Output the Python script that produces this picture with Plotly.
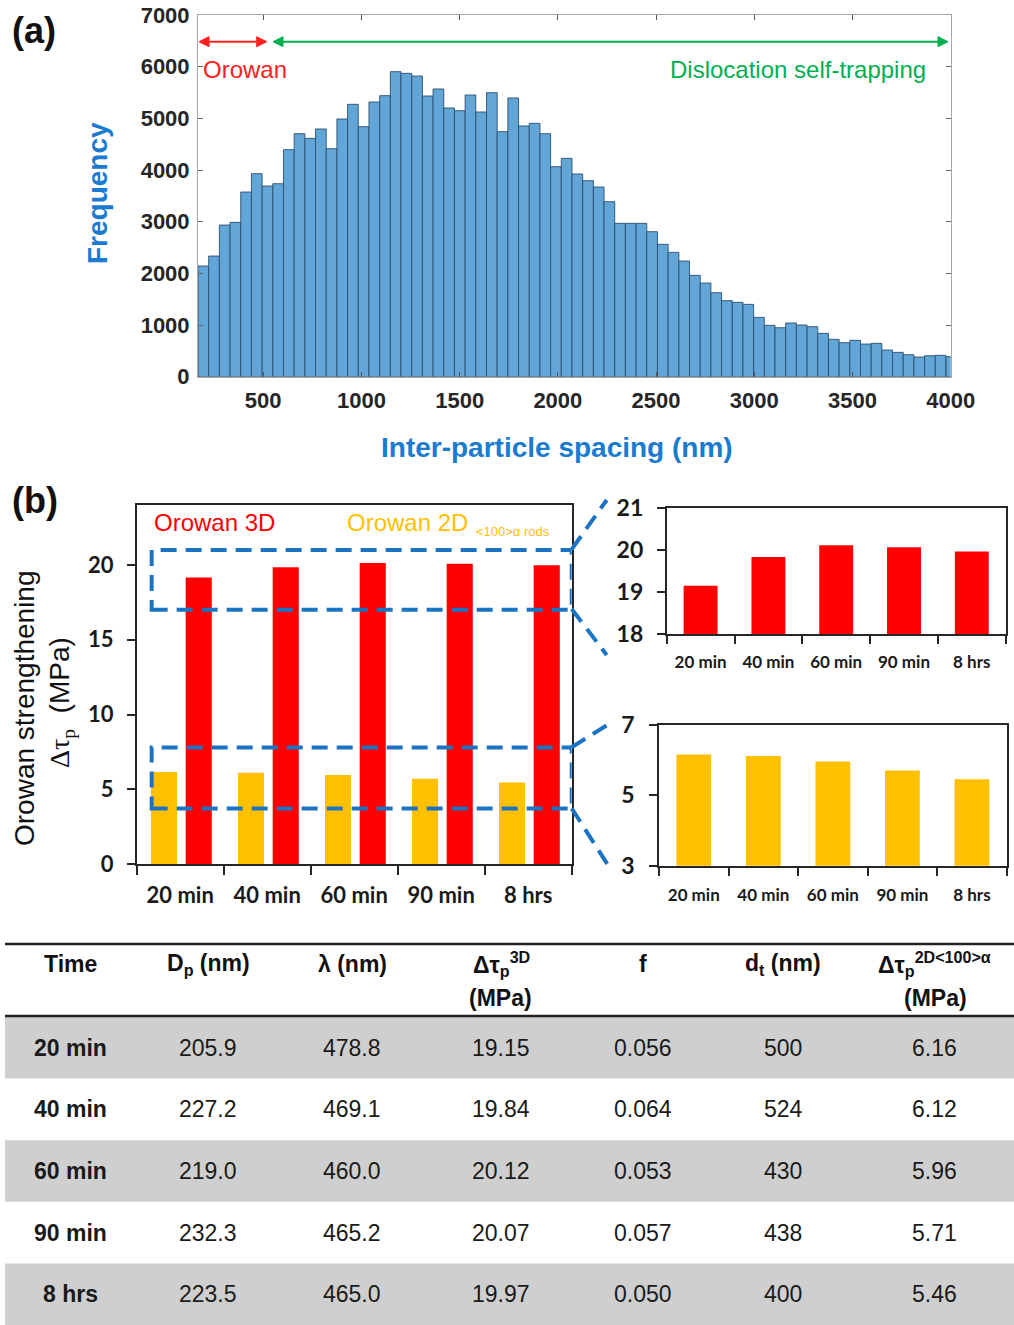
import plotly.graph_objects as go

W, H = 1014, 1325
def px(x):
    return x / W
def py(y):
    return 1 - y / H

# ---------------- data ----------------
bin_start = 168.0
bin_width = 54.4
frequency = [2142, 2335, 2935, 2987, 3574, 3929, 3690, 3735, 4394, 4703, 4613, 4794,
             4413, 4987, 5271, 4839, 5316, 5439, 5903, 5871, 5819, 5432, 5568, 5200,
             5148, 5452, 5123, 5497, 4742, 5394, 4852, 4903, 4703, 4065, 4226, 3923,
             3794, 3671, 3387, 2968, 2968, 2968, 2806, 2561, 2406, 2239, 1961, 1813,
             1626, 1471, 1439, 1400, 1148, 994, 948, 1039, 1000, 968, 839, 723,
             658, 703, 632, 645, 516, 471, 426, 381, 406, 413, 387]
hist_xticks = [500, 1000, 1500, 2000, 2500, 3000, 3500, 4000]
hist_yticks = [0, 1000, 2000, 3000, 4000, 5000, 6000, 7000]

times = ["20 min", "40 min", "60 min", "90 min", "8 hrs"]
dp = [205.9, 227.2, 219.0, 232.3, 223.5]
lam = [478.8, 469.1, 460.0, 465.2, 465.0]
tau3d = [19.15, 19.84, 20.12, 20.07, 19.97]
vol_frac = [0.056, 0.064, 0.053, 0.057, 0.050]
dt = [500, 524, 430, 438, 400]
tau2d = [6.16, 6.12, 5.96, 5.71, 5.46]

bin_centers = [bin_start + (i + 0.5) * bin_width for i in range(len(frequency))]

RED = "#FF0000"
YEL = "#FFC000"
BLUE_T = "#1A7BD0"
DASH_C = "#1B73C4"
ARIAL = "Liberation Sans, Arial, sans-serif"
CAL = "Lato, Carlito, Calibri, sans-serif"

fig = go.Figure()

fig.add_trace(go.Bar(x=bin_centers, y=frequency, width=bin_width,
                     marker=dict(color="#62A6D8", line=dict(color="#2E4E6E", width=0.9)),
                     xaxis="x", yaxis="y", showlegend=False))

fig.add_trace(go.Bar(x=times, y=tau2d, width=0.30, offset=-0.336, marker=dict(color=YEL, line=dict(width=0)),
                     xaxis="x2", yaxis="y2", showlegend=False))
fig.add_trace(go.Bar(x=times, y=tau3d, width=0.30, offset=0.063, marker=dict(color=RED, line=dict(width=0)),
                     xaxis="x2", yaxis="y2", showlegend=False))
fig.add_trace(go.Bar(x=times, y=tau3d, width=0.5, offset=-0.25, marker=dict(color=RED, line=dict(width=0)),
                     xaxis="x3", yaxis="y3", showlegend=False))
fig.add_trace(go.Bar(x=times, y=tau2d, width=0.5, offset=-0.25, marker=dict(color=YEL, line=dict(width=0)),
                     xaxis="x4", yaxis="y4", showlegend=False))

tick_a = dict(family=ARIAL, size=22, color="#262626", weight="bold")
tick_b = dict(family=CAL, size=21, color="#1a1a1a", weight="bold")

common_b = dict(showgrid=False, zeroline=False, showline=True, mirror=True,
                linecolor="#262626", linewidth=1.6, ticks="outside", tickcolor="#262626",
                tickwidth=1.6, automargin=False)

fig.update_layout(
    width=W, height=H, margin=dict(l=0, r=0, t=0, b=0, pad=0, autoexpand=False),
    paper_bgcolor="white", plot_bgcolor="white", barmode="overlay",
    xaxis=dict(domain=[px(198), px(950.7)], range=[bin_start, 4000], anchor="y",
               tickvals=hist_xticks, ticks="inside", ticklen=5, tickcolor="#555",
               showline=True, mirror="ticks", linecolor="#A6A6A6", linewidth=1,
               showgrid=False, zeroline=False, tickfont=tick_a, ticklabelstandoff=4,
               automargin=False),
    yaxis=dict(domain=[py(376.7), py(15)], range=[0, 7000], anchor="x",
               tickvals=hist_yticks, ticks="inside", ticklen=5, tickcolor="#666",
               showline=True, mirror="ticks", linecolor="#A6A6A6", linewidth=1,
               showgrid=False, zeroline=False, tickfont=tick_a, ticklabelstandoff=3,
               automargin=False),
    xaxis2=dict(domain=[px(136.7), px(571.7)], range=[-0.5, 4.5], anchor="y2", type="category",
                tickson="boundaries", ticklen=9, tickfont=dict(tick_b, size=22),
                ticklabelstandoff=10, **common_b),
    yaxis2=dict(domain=[py(864.3), py(505)], range=[0, 24], anchor="x2",
                tickvals=[0, 5, 10, 15, 20], ticklen=8, tickfont=dict(tick_b, size=22),
                ticklabelstandoff=9, **common_b),
    xaxis3=dict(domain=[px(666.7), px(1005.7)], range=[-0.5, 4.5], anchor="y3", type="category",
                tickson="boundaries", ticklen=8, tickfont=dict(tick_b, size=17),
                ticklabelstandoff=12, **common_b),
    yaxis3=dict(domain=[py(634), py(508.3)], range=[18, 21], anchor="x3",
                tickvals=[18, 19, 20, 21], ticklen=8, tickfont=dict(tick_b, size=23),
                ticklabelstandoff=9, **common_b),
    xaxis4=dict(domain=[px(659), px(1006.7)], range=[-0.5, 4.5], anchor="y4", type="category",
                tickson="boundaries", ticklen=8, tickfont=dict(tick_b, size=17),
                ticklabelstandoff=13, **common_b),
    yaxis4=dict(domain=[py(865.7), py(725)], range=[3, 7], anchor="x4",
                tickvals=[3, 5, 7], ticklen=8, tickfont=dict(tick_b, size=23),
                ticklabelstandoff=10, **common_b),
)

ann = []
def text(t, x, y, size, color="#111", bold=False, xanchor="center", yanchor="middle",
         family=ARIAL, angle=0):
    ann.append(dict(text=t, x=px(x), y=py(y), xref="paper", yref="paper", showarrow=False,
                    xanchor=xanchor, yanchor=yanchor, textangle=angle,
                    font=dict(family=family, size=size, color=color,
                              weight="bold" if bold else "normal")))

shapes = []

# panel labels
text("(a)", 10, 31, 36, "#111", True, "left")
text("(b)", 10, 500, 36, "#111", True, "left")

# panel (a) texts
text("Orowan", 201, 70, 24, "#FF2020", False, "left")
text("Dislocation self-trapping", 928, 70, 24, "#00B050", False, "right")
text("Frequency", 97, 193, 28, BLUE_T, True, angle=-90)
text("Inter-particle spacing (nm)", 557, 447, 28, BLUE_T, True)

# double arrows drawn as shapes
ARR_Y = 41.7
HL, HH = 10, 5
for (xa, xb, col) in [(199, 266.7, "#FF2020"), (273, 948, "#00B050")]:
    shapes.append(dict(type="line", xref="paper", yref="paper", x0=px(xa + 4), x1=px(xb - 4),
                       y0=py(ARR_Y), y1=py(ARR_Y), line=dict(color=col, width=2)))
    right = f"M {px(xb)},{py(ARR_Y)} L {px(xb - HL)},{py(ARR_Y - HH)} L {px(xb - HL)},{py(ARR_Y + HH)} Z"
    left = f"M {px(xa)},{py(ARR_Y)} L {px(xa + HL)},{py(ARR_Y - HH)} L {px(xa + HL)},{py(ARR_Y + HH)} Z"
    for p in (right, left):
        shapes.append(dict(type="path", xref="paper", yref="paper", path=p,
                           fillcolor=col, line=dict(color=col, width=1)))

# panel (b) texts
text("Orowan 3D", 152, 523, 24, RED, False, "left")
text("Orowan 2D", 345, 523, 24, YEL, False, "left")
text("&lt;100&gt;α rods", 474, 531, 13, YEL, False, "left")
text("Orowan strengthening", 24, 708, 28, "#111", False, angle=-90)
text('<span style="font-family:Liberation Serif">Δτ<sub>p</sub></span>  (MPa)', 61, 703, 28,
     "#111", False, angle=-90)

# ---------------- table ----------------
col_x = [70, 208, 352, 501, 643, 783, 934]
headers1 = ["Time", "D<sub>p</sub> (nm)", "λ (nm)", "Δτ<sub>p</sub><sup>3D</sup>", "f",
            "d<sub>t</sub> (nm)", "Δτ<sub>p</sub><sup>2D&lt;100&gt;α</sup>"]
for t, x in zip(headers1, col_x):
    text(t, x, 964, 23, "#111", True)
text("(MPa)", 500, 998, 23, "#111", True)
text("(MPa)", 935, 998, 23, "#111", True)

row_top0 = 1017.0
row_h = 61.6
for i in range(len(times)):
    top = row_top0 + i * row_h
    if i % 2 == 0:
        shapes.append(dict(type="rect", xref="paper", yref="paper", x0=px(5), x1=1,
                           y0=py(top + row_h), y1=py(top), fillcolor="#CFCFCF",
                           line=dict(width=0), layer="below"))
    cy = top + row_h / 2
    vals = [times[i], f"{dp[i]:.1f}", f"{lam[i]:.1f}", f"{tau3d[i]:.2f}",
            f"{vol_frac[i]:.3f}", f"{dt[i]}", f"{tau2d[i]:.2f}"]
    for j, (v, x) in enumerate(zip(vals, col_x)):
        text(v, x, cy, 23, "#1a1a1a", j == 0)

for yl in [944, 1016]:
    shapes.append(dict(type="line", xref="paper", yref="paper", x0=px(5), x1=1,
                       y0=py(yl), y1=py(yl), line=dict(color="#222", width=2.5)))

# dashed zoom boxes and connectors
dash = "16px,9px"
for (y0, y1) in [(17, 21), (3.73, 7.8)]:
    shapes.append(dict(type="rect", xref="x2", yref="y2", x0=-0.328, x1=4.5, y0=y0, y1=y1,
                       line=dict(color=DASH_C, width=4, dash=dash)))
for (xa, ya, xb, yb) in [(571.7, 549.3, 606.7, 500), (571.7, 609, 606.7, 655),
                         (571.7, 747.3, 610, 723.3), (571.7, 808.3, 610, 868.3)]:
    shapes.append(dict(type="line", xref="paper", yref="paper", x0=px(xa), y0=py(ya),
                       x1=px(xb), y1=py(yb), line=dict(color=DASH_C, width=4, dash=dash)))

fig.update_layout(annotations=ann, shapes=shapes)
fig.write_html("out.html")
